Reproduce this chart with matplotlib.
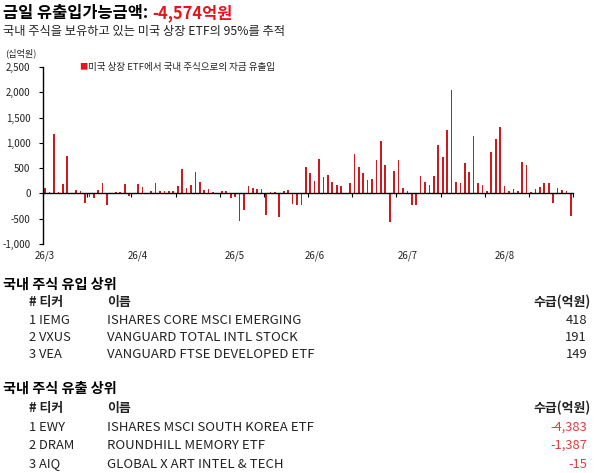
import matplotlib
matplotlib.use("Agg")
import matplotlib.pyplot as plt
from matplotlib.ticker import FuncFormatter, MultipleLocator, FixedLocator
import numpy as np

plt.rcParams['font.family'] = ['Noto Sans CJK KR', 'DejaVu Sans']

# ---------------- data ----------------
title_text = "금일 유출입가능금액: "
title_value = "-4,574억원"
subtitle = "국내 주식을 보유하고 있는 미국 상장 ETF의 95%를 추적"
unit_label = "(십억원)"
legend_label = "미국 상장 ETF에서 국내 주식으로의 자금 유출입"

flows = [110, 20, 1170, 20, 185, 740, 0, 66, 40, -190, -70, -85, 60, 200, -225,
         0, 20, 20, 185, -60, 10, 185, 120, 0, 40, 200, 40, 40, 40, 40,
         150, 480, 105, 165, 420, 223, 66, 85, 26, 13, 40, 40, -100, -80, -540,
         -320, 145, 105, 80, 85, -420, 20, 20, -460, 40, 60, -205, -225, -225, 520,
         395, 243, 675, 330, 355, 223, 165, 138, 0, 203, 775, 520, 400, 262, 282,
         663, 1030, 570, -560, 440, 663, 110, 46, -225, -225, 340, 230, 165, 340, 958,
         715, 1250, 2050, 230, 203, 603, 425, 1128, 203, 165, 46, 820, 1070, 1305, 150,
         46, 85, 46, 623, 557, 26, 85, 130, 203, 203, -190, 110, 72, 40, -440]
month_labels = ["26/3", "26/4", "26/5", "26/6", "26/7", "26/8"]
month_start_idx = [0, 21, 43, 61, 82, 104]

inflow_title = "국내 주식 유입 상위"
inflow_rank = ["1", "2", "3"]
inflow_ticker = ["IEMG", "VXUS", "VEA"]
inflow_name = ["ISHARES CORE MSCI EMERGING", "VANGUARD TOTAL INTL STOCK",
               "VANGUARD FTSE DEVELOPED ETF"]
inflow_value = [418, 191, 149]

outflow_title = "국내 주식 유출 상위"
outflow_rank = ["1", "2", "3"]
outflow_ticker = ["EWY", "DRAM", "AIQ"]
outflow_name = ["ISHARES MSCI SOUTH KOREA ETF", "ROUNDHILL MEMORY ETF",
                "GLOBAL X ART INTEL & TECH"]
outflow_value = [-4383, -1387, -15]

header = ["# 티커", "이름", "수급(억원)"]

# ---------------- figure ----------------
W, H = 594, 473
fig = plt.figure(figsize=(W / 100, H / 100), dpi=100)
fig.patch.set_facecolor("white")

def fx(px):
    return px / W

def fy(py):
    return 1 - py / H

RED = "#e8141c"
BAR = "#cc1a1f"
TXT = "#222222"

# title
t1 = fig.text(fx(3), fy(13), title_text, fontsize=11.8, fontweight="bold",
              color="black", va="center", ha="left")
fig.canvas.draw()
bb = t1.get_window_extent()
fig.text(bb.x1 / W, fy(13), title_value, fontsize=11.8, fontweight="bold",
         color=RED, va="center", ha="left")
fig.text(fx(3), fy(32), subtitle, fontsize=8.8, color=TXT, va="center", ha="left")

# chart axes
ax = fig.add_axes([fx(43), fy(244), fx(573) - fx(43), fy(67) - fy(244)])
x = np.arange(len(flows))
ax.bar(x, flows, width=0.38, color=BAR, linewidth=0)
ax.set_xlim(-0.5, len(flows) - 0.5)
ax.set_ylim(-1000, 2500)
ax.yaxis.set_major_locator(MultipleLocator(500))
ax.yaxis.set_major_formatter(FuncFormatter(lambda v, p: f"{int(v):,}"))
ax.tick_params(axis="y", labelsize=7, length=3, width=0.8, direction="out",
               colors="black", pad=6)
for lab in ax.get_yticklabels():
    lab.set_color(TXT)
for s in ["top", "right"]:
    ax.spines[s].set_visible(False)
ax.spines["left"].set_linewidth(1.0)
ax.spines["bottom"].set_position(("data", 0))
ax.spines["bottom"].set_linewidth(1.0)
ax.xaxis.set_major_locator(FixedLocator(np.arange(-0.5, len(flows), 10)))
ax.xaxis.set_major_formatter(FuncFormatter(lambda v, p: ""))
ax.tick_params(axis="x", length=3, width=0.8, direction="out")
for i, lab in zip(month_start_idx, month_labels):
    ax.text(i, -0.035, lab, transform=ax.get_xaxis_transform(), fontsize=7,
            color=TXT, ha="center", va="top")

fig.text(fx(5), fy(53), unit_label, fontsize=6.6, color=TXT, va="center", ha="left")
fig.text(fx(79), fy(67), "■", fontsize=6, color=RED, va="center", ha="left")
fig.text(fx(88), fy(67), legend_label, fontsize=6.9, color=TXT, va="center", ha="left")

# tables
def draw_table(y_title, y_header, y_rows, title, ranks, tickers, names, values, neg):
    fig.text(fx(3), fy(y_title), title, fontsize=10.2, fontweight="bold", color="black",
             va="center", ha="left")
    fig.text(fx(29), fy(y_header), header[0], fontsize=9.3, fontweight="bold",
             color=TXT, va="center", ha="left")
    fig.text(fx(107), fy(y_header), header[1], fontsize=9.3, fontweight="bold",
             color=TXT, va="center", ha="left")
    fig.text(fx(591), fy(y_header), header[2], fontsize=9.3, fontweight="bold",
             color=TXT, va="center", ha="right")
    for k in range(len(ranks)):
        yy = y_rows[k]
        fig.text(fx(29), fy(yy), f"{ranks[k]} {tickers[k]}", fontsize=9.3,
                 color=TXT, va="center", ha="left")
        fig.text(fx(107), fy(yy), names[k], fontsize=9.5, color=TXT,
                 va="center", ha="left")
        fig.text(fx(587), fy(yy), f"{values[k]:,}", fontsize=9.3,
                 color=("#e03c3c" if neg else TXT), va="center", ha="right")

draw_table(285, 302, [320, 337.5, 355], inflow_title, inflow_rank, inflow_ticker,
           inflow_name, inflow_value, False)
draw_table(389, 408, [427, 445.5, 464], outflow_title, outflow_rank, outflow_ticker,
           outflow_name, outflow_value, True)

fig.savefig("out.png", dpi=100, facecolor="white")
